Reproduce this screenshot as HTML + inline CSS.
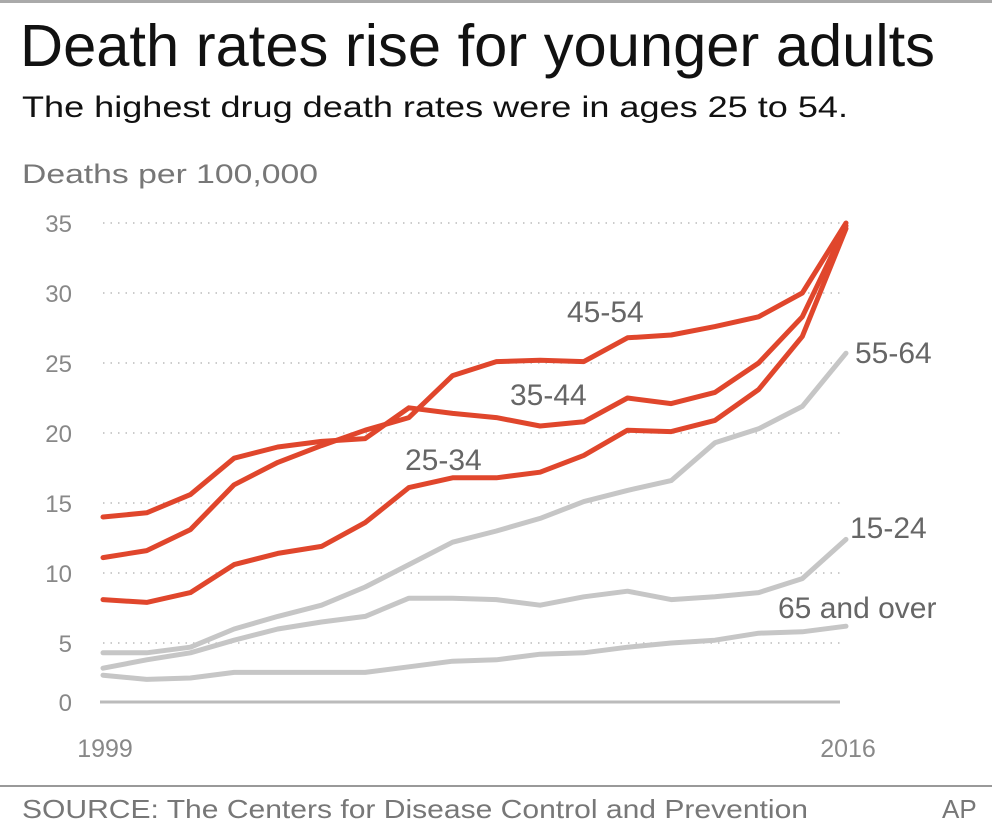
<!DOCTYPE html>
<html><head><meta charset="utf-8"><style>
html,body{margin:0;padding:0;background:#fff;}
svg{display:block;font-family:"Liberation Sans",sans-serif;}
</style></head><body>
<svg id="chart" width="992" height="837" viewBox="0 0 992 837" xmlns="http://www.w3.org/2000/svg">
<line x1="0" y1="1.5" x2="992" y2="1.5" stroke="#aaa" stroke-width="3"/>
<text x="20" y="66" font-size="59" fill="#111" textLength="915" lengthAdjust="spacingAndGlyphs">Death rates rise for younger adults</text>
<text x="22" y="117" font-size="30" fill="#111" textLength="826" lengthAdjust="spacingAndGlyphs">The highest drug death rates were in ages 25 to 54.</text>
<text x="22" y="183" font-size="27" fill="#777" textLength="296" lengthAdjust="spacingAndGlyphs">Deaths per 100,000</text>
<g id="grid"></g>
<g id="yticks"></g>
<line x1="100" y1="702" x2="840" y2="702" stroke="#bbb" stroke-width="3"/>
<g id="xticks"></g>
<g id="series"></g>
<g id="labels"></g>
<line x1="0" y1="786" x2="992" y2="786" stroke="#999" stroke-width="2"/>
<text x="22" y="818" font-size="26" fill="#777" textLength="786" lengthAdjust="spacingAndGlyphs">SOURCE:  The Centers for Disease Control and Prevention</text>
<text x="942" y="818" font-size="26" fill="#777">AP</text>
</svg>
<script>
const years = [1999,2000,2001,2002,2003,2004,2005,2006,2007,2008,2009,2010,2011,2012,2013,2014,2015,2016];
const s45_54 = [11.1,11.6,13.1,16.3,17.9,19.1,20.2,21.1,24.1,25.1,25.2,25.1,26.8,27.0,27.6,28.3,30.0,35.0];
const s35_44 = [14.0,14.3,15.6,18.2,19.0,19.4,19.6,21.8,21.4,21.1,20.5,20.8,22.5,22.1,22.9,25.0,28.3,34.8];
const s25_34 = [8.1,7.9,8.6,10.6,11.4,11.9,13.6,16.1,16.8,16.8,17.2,18.4,20.2,20.1,20.9,23.1,26.9,34.6];
const s55_64 = [4.3,4.3,4.7,6.0,6.9,7.7,9.0,10.6,12.2,13.0,13.9,15.1,15.9,16.6,19.3,20.3,21.9,25.7];
const s15_24 = [3.2,3.8,4.3,5.2,6.0,6.5,6.9,8.2,8.2,8.1,7.7,8.3,8.7,8.1,8.3,8.6,9.6,12.4];
const s65up = [2.7,2.4,2.5,2.9,2.9,2.9,2.9,3.3,3.7,3.8,4.2,4.3,4.7,5.0,5.2,5.7,5.8,6.2];
const yTicks = [0,5,10,15,20,25,30,35];
const xTickLabels = ["1999","2016"];
const seriesNames = ["55-64","15-24","65 and over","25-34","35-44","45-54"];

const NS = "http://www.w3.org/2000/svg";
function xs(yr){ return 103 + (yr-1999)*(846-103)/17; }
function ys(v){ return 713 - v*14; }
function mk(tag, attrs, parent){ const e=document.createElementNS(NS,tag); for(const k in attrs) e.setAttribute(k,attrs[k]); parent.appendChild(e); return e; }

const grid=document.getElementById('grid'), yt=document.getElementById('yticks');
yTicks.forEach(v=>{
  const gy = v===0 ? 702 : ys(v);
  if(v!==0){
    const l=mk('line',{x1:103,x2:840,y1:gy,y2:gy,stroke:'#bbb','stroke-width':1.5,'stroke-dasharray':'1.5 6'},grid);
    
    
  }
  const t=mk('text',{x:72,y:gy+9,'font-size':24,fill:'#888','text-anchor':'end'},yt);
  t.textContent=v;
  
  
});
const xt=document.getElementById('xticks');
[[years[0],xTickLabels[0]],[years[years.length-1],xTickLabels[1]]].forEach(([yr,lab])=>{
  const t=mk('text',{x:xs(yr)+2,y:757,'font-size':25,fill:'#888','text-anchor':'middle'},xt);
  t.textContent=lab;
  
  
});
const seriesData=[s55_64,s15_24,s65up,s25_34,s35_44,s45_54];
const colors=['#c6c6c6','#c6c6c6','#c6c6c6','#e0462c','#e0462c','#e0462c'];
const sg=document.getElementById('series');
seriesData.forEach((arr,i)=>{
  const d=arr.map((v,j)=>(j?'L':'M')+xs(years[j]).toFixed(1)+','+ys(v).toFixed(1)).join(' ');
  const p=mk('path',{d:d,fill:'none',stroke:colors[i],'stroke-width':5,'stroke-linejoin':'round','stroke-linecap':'round'},sg);
  
  
});
const labelPos=[[855,363],[850,538],[778,618],[405,470],[510,405],[567,322]];
const lg=document.getElementById('labels');
seriesNames.forEach((n,i)=>{
  const t=mk('text',{x:labelPos[i][0],y:labelPos[i][1],'font-size':30,fill:'#666'},lg);
  t.textContent=n;
  
  
});
</script>
</body></html>
